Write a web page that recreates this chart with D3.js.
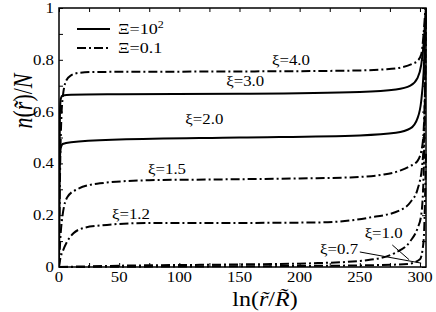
<!DOCTYPE html>
<html><head><meta charset="utf-8">
<script src="https://cdn.jsdelivr.net/npm/d3@7"></script>
<style>
body{margin:0;background:#fff}
svg{display:block}
text{font-family:"Liberation Serif","Times New Roman",serif;fill:#000}
</style>
</head><body>
<svg id="chart" width="436" height="312"></svg>
<script>
// ---------- data ----------
// Xi = 10^2 (solid)
const xi30X = [0, 0.3, 0.8, 1.5, 3, 10, 50, 150, 250, 280, 292, 298, 301, 303, 304, 305];
const xi30Y = [0, 0.35, 0.6, 0.65, 0.662, 0.665, 0.667, 0.669, 0.676, 0.685, 0.70, 0.73, 0.78, 0.86, 0.93, 1.0];
const xi20X = [0, 0.3, 0.8, 1.5, 3, 10, 50, 150, 250, 280, 292, 298, 301, 303, 304, 305];
const xi20Y = [0, 0.25, 0.42, 0.46, 0.475, 0.482, 0.492, 0.500, 0.508, 0.518, 0.535, 0.575, 0.64, 0.75, 0.86, 1.0];
// Xi = 0.1 (dash-dot)
const xi40X = [0, 1, 2, 3, 6, 10, 17, 30, 80, 150, 240, 270, 284, 294, 298, 301, 303, 304.5];
const xi40Y = [0, 0.4, 0.58, 0.65, 0.72, 0.74, 0.75, 0.753, 0.754, 0.755, 0.758, 0.763, 0.77, 0.785, 0.796, 0.82, 0.9, 1.0];
const xi15X = [0, 1, 3, 7, 15, 34, 75, 131, 200, 242, 270, 284, 292, 298, 302, 304, 305];
const xi15Y = [0, 0.1, 0.2, 0.27, 0.30, 0.323, 0.335, 0.338, 0.342, 0.346, 0.357, 0.373, 0.39, 0.41, 0.47, 0.65, 1.0];
const xi12X = [0, 1, 3.5, 7, 12, 20, 34, 75, 131, 215, 257, 284, 292, 298, 302, 304, 305];
const xi12Y = [0, 0.03, 0.065, 0.1, 0.13, 0.15, 0.16, 0.17, 0.17, 0.172, 0.19, 0.22, 0.25, 0.30, 0.40, 0.6, 1.0];
const xi10X = [0, 50, 150, 215, 257, 279, 292, 298, 301, 303, 304.5];
const xi10Y = [0, 0.005, 0.01, 0.015, 0.027, 0.054, 0.10, 0.15, 0.2, 0.35, 0.8];
const xi07X = [0, 100, 200, 260, 290, 300, 303, 305];
const xi07Y = [0, 0.002, 0.004, 0.007, 0.012, 0.03, 0.1, 0.45];

const xTicks = [0, 50, 100, 150, 200, 250, 300];
const yTicks = [0, 0.2, 0.4, 0.6, 0.8, 1];
const yTickLabels = ["0", "0.2", "0.4", "0.6", "0.8", "1"];

// curve labels: [text, x, y] in data space
const curveLabels = [
  ["ξ=4.0", 177, 0.78],
  ["ξ=3.0", 139, 0.699],
  ["ξ=2.0", 105, 0.552],
  ["ξ=1.5", 74, 0.359],
  ["ξ=1.2", 44, 0.185],
  ["ξ=1.0", 254, 0.112],
  ["ξ=0.7", 217, 0.05]
];
// leader lines in data space
const leaders = [
  [[277, 0.085], [291, 0.028]],
  [[250, 0.058], [301, 0.015]]
];

// ---------- chart ----------
const W = 436, H = 312;
const m = {l: 59, r: 10, t: 8, b: 45};
const svg = d3.select("#chart");
const x = d3.scaleLinear().domain([0, 305]).range([m.l, W - m.r]);
const y = d3.scaleLinear().domain([0, 1]).range([H - m.b, m.t]);
const SX = 1.2; // horizontal text stretch

const series = [
  {x: xi30X, y: xi30Y, dash: null},
  {x: xi20X, y: xi20Y, dash: null},
  {x: xi40X, y: xi40Y, dash: "9,3,2,3"},
  {x: xi15X, y: xi15Y, dash: "9,3,2,3"},
  {x: xi12X, y: xi12Y, dash: "9,3,2,3"},
  {x: xi10X, y: xi10Y, dash: "9,3,2,3"},
  {x: xi07X, y: xi07Y, dash: "9,3,2,3"}
];

svg.append("clipPath").attr("id", "clip").append("rect")
  .attr("x", m.l).attr("y", m.t - 2).attr("width", W - m.r - m.l + 1).attr("height", H - m.b - m.t + 3);

const line = d3.line().x(d => x(d[0])).y(d => y(d[1])).curve(d3.curveMonotoneX);
const gL = svg.append("g").attr("clip-path", "url(#clip)");
series.forEach(s => {
  const pts = s.x.map((v, i) => [v, s.y[i]]);
  gL.append("path").attr("d", line(pts)).attr("fill", "none")
    .attr("stroke", "#000").attr("stroke-width", 2)
    .attr("stroke-dasharray", s.dash);
});

// axes (ticks inward)
const xMinor = d3.range(0, 305, 25);
const yMinor = d3.range(0, 1.0001, 0.1);
svg.append("g").attr("transform", `translate(0,${H - m.b})`)
  .call(d3.axisBottom(x).tickValues(xMinor).tickSize(-4).tickFormat(""))
  .call(g => g.select(".domain").remove());
svg.append("g").attr("transform", `translate(0,${m.t})`)
  .call(d3.axisTop(x).tickValues(xMinor).tickSize(-4).tickFormat(""))
  .call(g => g.select(".domain").remove());
svg.append("g").attr("transform", `translate(${m.l},0)`)
  .call(d3.axisLeft(y).tickValues(yMinor).tickSize(-4).tickFormat(""))
  .call(g => g.select(".domain").remove());
svg.append("g").attr("transform", `translate(${W - m.r},0)`)
  .call(d3.axisRight(y).tickValues(yMinor).tickSize(-4).tickFormat(""))
  .call(g => g.select(".domain").remove());
svg.selectAll(".tick line").attr("stroke", "#000").attr("stroke-width", 1);

svg.append("rect").attr("x", m.l).attr("y", m.t)
  .attr("width", W - m.r - m.l).attr("height", H - m.b - m.t)
  .attr("fill", "none").attr("stroke", "#000").attr("stroke-width", 1.5);

function txt(px, py, anchor, size) {
  return svg.append("text")
    .attr("transform", `translate(${px},${py}) scale(${SX},1)`)
    .attr("text-anchor", anchor).attr("font-size", size);
}

// tick labels
xTicks.forEach(v => txt(x(v), H - m.b + 15, "middle", 14).text(v));
yTicks.forEach((v, i) => txt(m.l - 5, y(v) + 5, "end", 14).text(yTickLabels[i]));

// curve labels
curveLabels.forEach(c => txt(x(c[1]), y(c[2]), "start", 14).text(c[0]));
leaders.forEach(l => svg.append("line")
  .attr("x1", x(l[0][0])).attr("y1", y(l[0][1]))
  .attr("x2", x(l[1][0])).attr("y2", y(l[1][1]))
  .attr("stroke", "#000").attr("stroke-width", 1));

// legend
const lg = [{dash: null, y: 29, label: "10", sup: "2"}, {dash: "9,3,2,3", y: 48, label: "0.1", sup: null}];
lg.forEach(d => {
  svg.append("line").attr("x1", 77).attr("x2", 110).attr("y1", d.y).attr("y2", d.y)
    .attr("stroke", "#000").attr("stroke-width", 2).attr("stroke-dasharray", d.dash);
  const t = txt(118, d.y + 5, "start", 15);
  t.append("tspan").text("Ξ=" + d.label);
  if (d.sup) t.append("tspan").attr("dy", -6).attr("font-size", 10).text(d.sup);
});

// axis titles
const xt = txt(265, 306, "middle", 20);
xt.append("tspan").text("ln(");
xt.append("tspan").attr("font-style", "italic").text("r\u0303");
xt.append("tspan").text("/");
xt.append("tspan").attr("font-style", "italic").text("R\u0303");
xt.append("tspan").text(")");

const yt = svg.append("text")
  .attr("transform", `translate(32,101) rotate(-90) scale(1,${SX})`)
  .attr("text-anchor", "middle").attr("font-size", 22);
yt.append("tspan").attr("font-style", "italic").text("n");
yt.append("tspan").text("(");
yt.append("tspan").attr("font-style", "italic").text("r\u0303");
yt.append("tspan").text(")/");
yt.append("tspan").attr("font-style", "italic").text("N");
</script>
</body></html>
